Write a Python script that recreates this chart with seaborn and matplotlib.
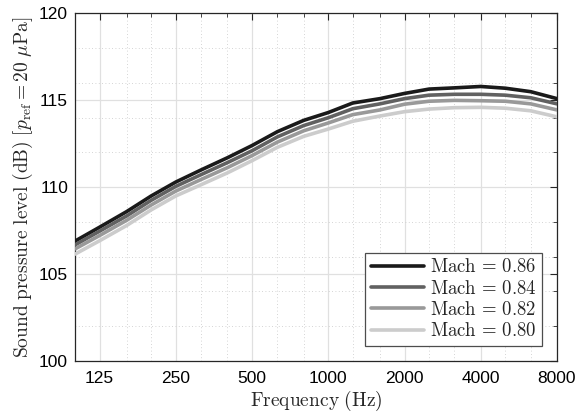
import numpy as np
import pandas as pd
import matplotlib
matplotlib.use("Agg")
import matplotlib.pyplot as plt
import seaborn as sns
from matplotlib.ticker import FixedLocator, NullFormatter, FixedFormatter

freqs = [100, 125, 160, 200, 250, 315, 400, 500, 630, 800, 1000, 1250,
         1600, 2000, 2500, 3150, 4000, 5000, 6300, 8000]
spl_086 = [106.9, 107.7, 108.6, 109.5, 110.3, 111.0, 111.7, 112.4, 113.2, 113.85,
           114.3, 114.85, 115.1, 115.4, 115.65, 115.72, 115.8, 115.7, 115.5, 115.1]
spl_084 = [106.68, 107.47, 108.35, 109.25, 110.05, 110.73, 111.42, 112.1, 112.9, 113.55,
           114.0, 114.52, 114.8, 115.1, 115.3, 115.35, 115.35, 115.3, 115.15, 114.8]
spl_082 = [106.45, 107.22, 108.1, 108.98, 109.78, 110.45, 111.13, 111.82, 112.6, 113.25,
           113.7, 114.18, 114.45, 114.78, 114.95, 115.0, 114.98, 114.95, 114.8, 114.45]
spl_080 = [106.15, 106.92, 107.8, 108.7, 109.5, 110.15, 110.83, 111.53, 112.3, 112.93,
           113.35, 113.8, 114.1, 114.35, 114.5, 114.58, 114.6, 114.55, 114.4, 114.05]
mach_labels = ["Mach = 0.86", "Mach = 0.84", "Mach = 0.82", "Mach = 0.80"]
xtick_vals = [125, 250, 500, 1000, 2000, 4000, 8000]
xtick_labels = ["125", "250", "500", "1000", "2000", "4000", "8000"]
xminor_vals = [160, 200, 315, 400, 630, 800, 1250, 1600, 2500, 3150, 5000, 6300]
ytick_vals = [100, 105, 110, 115, 120]
yminor_vals = [102, 104, 106, 108, 112, 114, 116, 118]

series = [spl_086, spl_084, spl_082, spl_080]
df = pd.concat([pd.DataFrame({"f": freqs, "spl": s, "mach": lab})
                for s, lab in zip(series, mach_labels)], ignore_index=True)

sns.set_style("white")
plt.rcParams["font.family"] = ["Liberation Sans", "DejaVu Sans"]
plt.rcParams["mathtext.fontset"] = "cm"

fig = plt.figure(figsize=(5.82, 4.17), dpi=100)
ax = fig.add_axes([75/582, 1-361/417, (557-75)/582, (361-13.5)/417])

palette = {mach_labels[0]: (0.1, 0.1, 0.1), mach_labels[1]: (0.38, 0.38, 0.38),
           mach_labels[2]: (0.6, 0.6, 0.6), mach_labels[3]: (0.8, 0.8, 0.8)}
sns.lineplot(data=df, x="f", y="spl", hue="mach", hue_order=mach_labels,
             palette=palette, linewidth=2.6, ax=ax, legend=False, zorder=3)

ax.set_xscale("log")
ax.set_xlim(100, 8000)
ax.set_ylim(100, 120)
ax.xaxis.set_major_locator(FixedLocator(xtick_vals))
ax.xaxis.set_major_formatter(FixedFormatter(xtick_labels))
ax.xaxis.set_minor_locator(FixedLocator(xminor_vals))
ax.xaxis.set_minor_formatter(NullFormatter())
ax.yaxis.set_major_locator(FixedLocator(ytick_vals))
ax.yaxis.set_minor_locator(FixedLocator(yminor_vals))

ax.grid(which="major", color=(0.88, 0.88, 0.88), linewidth=0.9, linestyle="-", zorder=0)
ax.grid(which="minor", color=(0.78, 0.78, 0.78), linewidth=0.6, linestyle=(0, (1, 3)), zorder=0)
ax.set_axisbelow(True)

ax.tick_params(which="both", direction="in", top=True, right=True, colors=(0.15, 0.15, 0.15),
               labelsize=12.5, labelcolor="black")
ax.tick_params(which="major", length=5, width=0.8)
ax.tick_params(which="minor", length=3, width=0.6)
ax.tick_params(axis="x", which="major", pad=7)
ax.tick_params(axis="y", which="major", pad=5)
for sp in ax.spines.values():
    sp.set_color((0.15, 0.15, 0.15))
    sp.set_linewidth(0.9)

ax.set_xlabel(r"$\mathrm{Frequency\ (Hz)}$", fontsize=14, labelpad=2)
ax.set_ylabel(r"$\mathrm{Sound\ pressure\ level\ (dB)}\ [p_{\mathrm{ref}} = 20\ \mu\mathrm{Pa}]$",
              fontsize=14, labelpad=3)

handles = [plt.Line2D([], [], color=palette[l], linewidth=2.6) for l in mach_labels]
leg = ax.legend(handles, [r"$\mathrm{Mach}\,=\,0.%s$" % l[-2:] for l in mach_labels],
                loc="lower right", fontsize=13.5, handlelength=2.85, handletextpad=0.3,
                labelspacing=0.18, borderpad=0.3, borderaxespad=0.8,
                fancybox=False, framealpha=1, edgecolor=(0.3, 0.3, 0.3))
leg.get_frame().set_linewidth(0.9)

fig.savefig("out.png", dpi=100)
